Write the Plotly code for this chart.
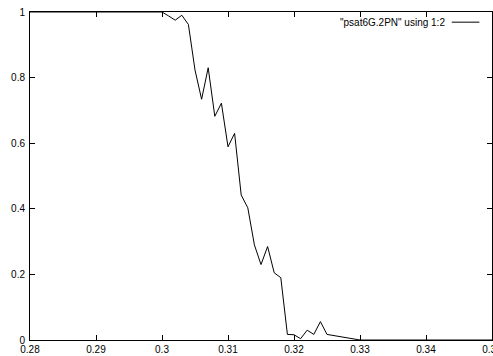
import plotly.graph_objects as go

x_vals = [0.280, 0.285, 0.290, 0.295, 0.299,
          0.300, 0.301, 0.302, 0.303, 0.304, 0.305, 0.306, 0.307, 0.308, 0.309,
          0.310, 0.311, 0.312, 0.313, 0.314, 0.315, 0.316, 0.317, 0.318, 0.319,
          0.320, 0.321, 0.322, 0.323, 0.324, 0.325, 0.326, 0.327, 0.328, 0.329,
          0.330, 0.335, 0.340, 0.345, 0.350]
y_vals = [1.0, 1.0, 1.0, 1.0, 1.0,
          1.0, 0.988, 0.975, 0.99, 0.962, 0.823, 0.734, 0.830, 0.682, 0.722,
          0.589, 0.630, 0.442, 0.403, 0.290, 0.230, 0.285, 0.205, 0.190, 0.017,
          0.016, 0.004, 0.030, 0.017, 0.056, 0.017, 0.014, 0.010, 0.007, 0.003,
          0.0, 0.0, 0.0, 0.0, 0.0]

x_ticks = [0.28, 0.29, 0.30, 0.31, 0.32, 0.33, 0.34, 0.35]
x_tick_labels = ["0.28", "0.29", "0.3", "0.31", "0.32", "0.33", "0.34", "0.35"]
y_ticks = [0, 0.2, 0.4, 0.6, 0.8, 1.0]
y_tick_labels = ["0", "0.2", "0.4", "0.6", "0.8", "1"]
series_name = '"psat6G.2PN" using 1:2'

fig = go.Figure()
fig.add_trace(go.Scatter(x=x_vals, y=y_vals, mode="lines",
                         line=dict(color="black", width=1),
                         name=series_name, showlegend=False, hoverinfo="skip"))

axis_common = dict(showline=True, mirror="ticks", ticks="inside", ticklen=5,
                   tickwidth=1, tickcolor="black", linecolor="black", linewidth=1,
                   showgrid=False, zeroline=False, automargin=False,
                   ticklabeloverflow="allow",
                   tickfont=dict(family="Liberation Sans", size=10, color="black"))

fig.update_xaxes(range=[0.28, 0.35], tickvals=x_ticks, ticktext=x_tick_labels,
                 ticklabelstandoff=0, **axis_common)
fig.update_yaxes(range=[0, 1], tickvals=y_ticks, ticktext=y_tick_labels,
                 ticklabelstandoff=2, **axis_common)

fig.add_annotation(text=series_name, xref="paper", yref="paper",
                   x=0.9022, y=0.969, xanchor="right", yanchor="middle",
                   showarrow=False,
                   font=dict(family="Liberation Sans", size=10, color="black"))
fig.add_shape(type="line", xref="paper", yref="paper",
              x0=0.9130, x1=0.9727, y0=0.969, y1=0.969,
              line=dict(color="black", width=1))

fig.update_layout(width=493, height=356,
                  margin=dict(l=30, r=1, t=12, b=16),
                  plot_bgcolor="white", paper_bgcolor="white",
                  showlegend=False, hovermode=False)

fig.write_html("out.html", config={"displayModeBar": False, "staticPlot": True},
               post_script="document.body.style.margin='0';document.body.style.overflow='hidden';")
